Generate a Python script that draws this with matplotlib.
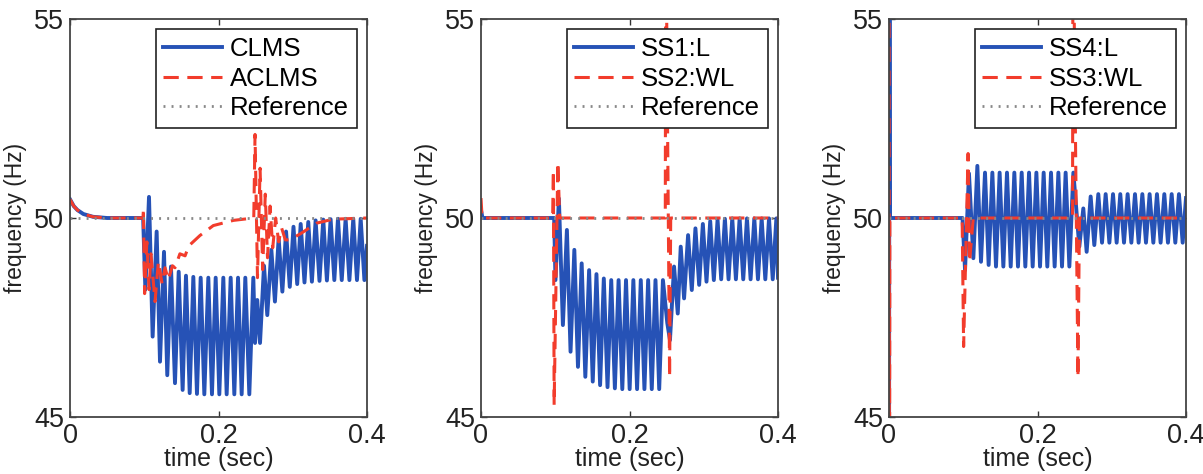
import numpy as np
import matplotlib
matplotlib.use('Agg')
import matplotlib.pyplot as plt

plt.rcParams['font.family'] = ['Liberation Sans', 'DejaVu Sans']

# panel 1: CLMS vs ACLMS  (time sec, frequency Hz)
clms = [(0, 50.47), (0.005, 50.3), (0.01, 50.2), (0.018, 50.1), (0.031, 50.03), (0.05, 50.0),
        (0.0985, 50.0), (0.1015, 48.2), (0.1064, 50.53), (0.1113, 47.02), (0.1167, 49.66),
        (0.1212, 46.39), (0.1266, 49.15), (0.1310, 46.05), (0.1360, 48.78), (0.1414, 45.85),
        (0.1464, 48.65), (0.1517, 45.68), (0.1562, 48.55), (0.1612, 45.6), (0.1661, 48.52),
        (0.1710, 45.58), (0.1760, 48.5), (0.1809, 45.57), (0.1863, 48.5), (0.1912, 45.57),
        (0.1962, 48.5), (0.2011, 45.57), (0.2065, 48.5), (0.2110, 45.57), (0.2164, 48.5),
        (0.2213, 45.57), (0.2263, 48.5), (0.2312, 45.57), (0.2361, 48.5), (0.2415, 45.57),
        (0.2469, 48.5), (0.2492, 46.86), (0.2522, 47.94), (0.2559, 46.86), (0.2613, 48.8),
        (0.2657, 47.56), (0.2712, 49.2), (0.2760, 47.9), (0.2810, 49.49), (0.2860, 48.15),
        (0.2910, 49.66), (0.2960, 48.27), (0.3010, 49.78), (0.3060, 48.34), (0.3107, 49.85),
        (0.3158, 48.38), (0.3209, 49.9), (0.3258, 48.4), (0.3308, 49.94), (0.3360, 48.42),
        (0.3411, 49.96), (0.3460, 48.43), (0.3510, 49.97), (0.3560, 48.44), (0.3609, 49.98),
        (0.3660, 48.44), (0.3712, 49.98), (0.3763, 48.44), (0.3815, 49.98), (0.3865, 48.44),
        (0.3915, 49.98), (0.3965, 48.44), (0.4, 49.3)]
aclms = [(0, 50.47), (0.005, 50.3), (0.01, 50.2), (0.018, 50.1), (0.031, 50.03), (0.05, 50.0),
         (0.0985, 50.0), (0.0988, 50.24), (0.1005, 48.1), (0.1035, 49.4), (0.1065, 48.2),
         (0.109, 49.1), (0.1145, 47.9), (0.119, 48.9), (0.124, 48.35), (0.128, 48.75),
         (0.1324, 48.45), (0.138, 48.8), (0.1414, 48.75), (0.148, 49.1), (0.155, 49.05),
         (0.16, 49.3), (0.175, 49.56), (0.193, 49.81), (0.22, 49.94), (0.2475, 50.0),
         (0.2492, 52.1), (0.2525, 48.5), (0.256, 51.25), (0.2595, 48.7), (0.263, 50.6),
         (0.266, 49.0), (0.2695, 50.3), (0.273, 49.25), (0.277, 50.0), (0.281, 49.4),
         (0.285, 49.75), (0.29, 49.45), (0.296, 49.45), (0.31, 49.6), (0.332, 49.87),
         (0.354, 49.97), (0.4, 50.0)]

# panel 2: SS1:L vs SS2:WL
ss1 = [(0, 50.2), (0.002, 50.0), (0.0985, 50.0), (0.1003, 48.44), (0.1049, 50.49),
       (0.1103, 47.31), (0.1157, 49.7), (0.1206, 46.64), (0.1257, 49.2), (0.1306, 46.26),
       (0.1356, 48.86), (0.1405, 46.01), (0.1456, 48.69), (0.1505, 45.89), (0.1555, 48.59),
       (0.1604, 45.8), (0.1654, 48.48), (0.1704, 45.75), (0.1754, 48.44), (0.1803, 45.72),
       (0.1853, 48.44), (0.1903, 45.7), (0.1953, 48.44), (0.2002, 45.7), (0.2052, 48.44),
       (0.2102, 45.7), (0.2152, 48.44), (0.2201, 45.7), (0.2251, 48.44), (0.2300, 45.7),
       (0.2350, 48.44), (0.2400, 45.7), (0.2450, 48.44), (0.2509, 47.36), (0.2545, 46.93),
       (0.2600, 48.78), (0.2650, 47.6), (0.2690, 49.28), (0.2735, 47.98), (0.2789, 49.57),
       (0.2839, 48.19), (0.2888, 49.74), (0.2938, 48.32), (0.2988, 49.85), (0.3037, 48.4),
       (0.3087, 49.92), (0.3136, 48.44), (0.3186, 49.96), (0.3235, 48.46), (0.3285, 49.98),
       (0.3334, 48.46), (0.3384, 49.99), (0.3433, 48.46), (0.3483, 49.99), (0.3532, 48.46),
       (0.3582, 49.99), (0.3631, 48.46), (0.3681, 49.99), (0.3730, 48.46), (0.3780, 49.99),
       (0.3829, 48.46), (0.3879, 49.99), (0.3929, 48.46), (0.3978, 49.99), (0.4, 48.5)]
ss2 = [(0, 50.5), (0.0015, 50.0), (0.0965, 50.0), (0.0975, 51.2), (0.0985, 45.3),
       (0.1035, 51.4), (0.106, 50.0), (0.2482, 50.0), (0.2488, 58.0), (0.254, 46.0),
       (0.2555, 50.0), (0.4, 50.0)]

# panel 3: SS4:L vs SS3:WL
ss4 = [(0, 40.0), (0.0006, 60.0), (0.0012, 50.0), (0.099, 50.0), (0.1024, 48.69),
       (0.1077, 51.12), (0.1136, 48.99), (0.1190, 51.31), (0.1239, 48.9), (0.1293, 51.14),
       (0.1342, 48.82), (0.1392, 51.14), (0.1441, 48.78), (0.1490, 51.14), (0.1540, 48.78),
       (0.1589, 51.14), (0.1639, 48.78), (0.1688, 51.14), (0.1737, 48.78), (0.1787, 51.14),
       (0.1836, 48.78), (0.1886, 51.14), (0.1935, 48.78), (0.1985, 51.14), (0.2034, 48.78),
       (0.2083, 51.14), (0.2132, 48.78), (0.2182, 51.14), (0.2231, 48.78), (0.2281, 51.14),
       (0.2330, 48.78), (0.2379, 51.14), (0.2429, 48.78), (0.2483, 51.14), (0.2563, 49.28),
       (0.2617, 50.24), (0.2662, 49.15), (0.2716, 50.54), (0.2765, 49.32), (0.2819, 50.6),
       (0.2869, 49.38), (0.2918, 50.6), (0.2968, 49.38), (0.3017, 50.6), (0.3066, 49.38),
       (0.3115, 50.6), (0.3165, 49.38), (0.3214, 50.6), (0.3264, 49.38), (0.3313, 50.6),
       (0.3362, 49.38), (0.3412, 50.6), (0.3461, 49.38), (0.3510, 50.6), (0.3560, 49.38),
       (0.3609, 50.6), (0.3658, 49.38), (0.3708, 50.6), (0.3757, 49.38), (0.3807, 50.6),
       (0.3856, 49.38), (0.3905, 50.6), (0.3955, 49.38), (0.4, 50.5)]
ss3 = [(0, 60.0), (0.0006, 40.0), (0.0012, 50.0), (0.0985, 50.0), (0.1005, 46.77),
       (0.1065, 51.62), (0.1085, 48.9), (0.1135, 50.0), (0.2472, 50.0), (0.2478, 58.0),
       (0.2545, 46.0), (0.2565, 50.0), (0.4, 50.0)]

reference = [(0, 50.0), (0.4, 50.0)]

panels = [
    (clms, aclms, ['CLMS', 'ACLMS', 'Reference']),
    (ss1, ss2, ['SS1:L', 'SS2:WL', 'Reference']),
    (ss4, ss3, ['SS4:L', 'SS3:WL', 'Reference']),
]

blue = '#2652b6'
red = '#f23c2c'
lefts = [70, 481, 889]

fig = plt.figure(figsize=(12.03, 4.74), dpi=100)
for (s1, s2, labels), left in zip(panels, lefts):
    ax = fig.add_axes([left / 1203, 57 / 474, 297 / 1203, 398 / 474])
    t1, f1 = np.array(s1).T
    t2, f2 = np.array(s2).T
    tr, fr = np.array(reference).T
    ax.plot(t1, f1, color=blue, lw=2.8, label=labels[0])
    ax.plot(t2, f2, color=red, lw=2.2, dashes=(5, 2.8), label=labels[1])
    ax.plot(tr, fr, color='#888888', lw=2.0, dashes=(0.7, 2.2), label=labels[2])
    ax.set_xlim(0, 0.4)
    ax.set_ylim(45, 55)
    ax.set_xticks([0, 0.2, 0.4])
    ax.set_xticklabels(['0', '0.2', '0.4'])
    ax.set_yticks([45, 50, 55])
    ax.tick_params(direction='in', top=True, right=True, labelsize=19.5,
                   length=4, width=1, colors='#333333', labelcolor='#222222', pad=4)
    for sp in ax.spines.values():
        sp.set_color('#444444')
        sp.set_linewidth(1.3)
    ax.set_xlabel('time (sec)', fontsize=18, color='#222222', labelpad=-1)
    ax.set_ylabel('frequency (Hz)', fontsize=16.5, color='#222222', labelpad=5)
    leg = ax.legend(loc='upper right', fontsize=18.5, fancybox=False, framealpha=1,
                    edgecolor='#222222', handlelength=2.3, handletextpad=0.3,
                    labelspacing=0.22, borderpad=0.3, borderaxespad=0.4)
    leg.get_frame().set_linewidth(1.2)

fig.savefig('out.png', dpi=100)
